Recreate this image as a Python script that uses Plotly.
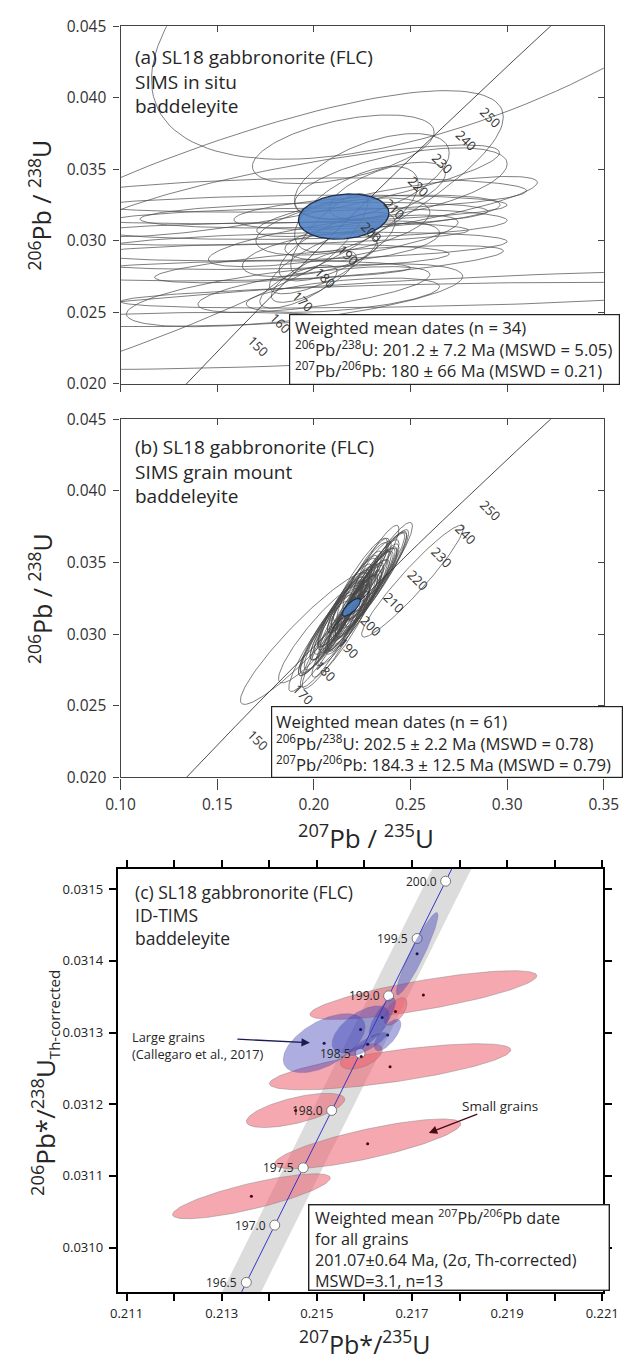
import numpy as np
import plotly.graph_objects as go

W, H = 636, 1362
FONT = "Open Sans"
TXT = "#262626"

# ---------------- DATA ----------------
# Concordia nodes used in panels (a) and (b): age (Ma), 207Pb/235U, 206Pb/238U
conc_ages_ab = [120, 130, 140, 150, 160, 170, 180, 190, 200, 210, 220, 230, 240, 250, 260, 270, 280, 290]
conc_x_ab = [0.125450, 0.136588, 0.147837, 0.159197, 0.170669, 0.182256, 0.193957, 0.205774, 0.217708,
             0.229759, 0.241930, 0.254222, 0.266635, 0.279171, 0.291831, 0.304617, 0.317529, 0.330569]
conc_y_ab = [0.018789, 0.020371, 0.021955, 0.023542, 0.025131, 0.026722, 0.028316, 0.029912, 0.031511,
             0.033112, 0.034716, 0.036323, 0.037932, 0.039543, 0.041157, 0.042773, 0.044392, 0.046018]
conc_label_ages = [150, 160, 170, 180, 190, 200, 210, 220, 230, 240, 250]

# Panel (a): SIMS in situ spots -> centre x, centre y, 2s half-width x, 2s half-width y, error correlation
a_cx = [0.300, 0.120, 0.2152, 0.190, 0.243, 0.2275, 0.2078, 0.260, 0.210, 0.200, 0.190,
        0.190, 0.180, 0.190, 0.170, 0.190, 0.170, 0.200, 0.160, 0.260, 0.130,
        0.205, 0.200, 0.192, 0.212, 0.222, 0.230, 0.215, 0.208, 0.238, 0.198, 0.225, 0.245, 0.215]
a_cy = [0.0507, 0.0294, 0.0364, 0.0335, 0.0324, 0.0320, 0.02837, 0.0245, 0.0300, 0.0266, 0.0262,
        0.0332, 0.0322, 0.0312, 0.0305, 0.0296, 0.0289, 0.0318, 0.0279, 0.0262, 0.0245,
        0.0285, 0.0275, 0.0268, 0.0296, 0.0322, 0.0345, 0.0310, 0.0305, 0.0335, 0.0290, 0.0300, 0.0340, 0.0262]
a_sx = [0.184, 0.178, 0.047, 0.106, 0.0726, 0.0689, 0.0902, 0.300, 0.0646, 0.060, 0.087,
        0.120, 0.120, 0.110, 0.110, 0.110, 0.100, 0.090, 0.090, 0.160, 0.080,
        0.028, 0.022, 0.020, 0.030, 0.032, 0.040, 0.045, 0.020, 0.030, 0.035, 0.040, 0.055, 0.050]
a_sy = [0.0150, 0.0111, 0.0024, 0.0032, 0.0021, 0.0012, 0.0013, 0.0035, 0.0018, 0.0016, 0.0022,
        0.0012, 0.0010, 0.0011, 0.0008, 0.0010, 0.0009, 0.0009, 0.0007, 0.0009, 0.0005,
        0.0022, 0.0018, 0.0015, 0.0024, 0.0030, 0.0030, 0.0020, 0.0028, 0.0020, 0.0015, 0.0014, 0.0025, 0.0012]
a_rho = [0.63, 0.834, 0.50, 0.83, 0.80, 0.43, 0.71, 0.60, 0.72, 0.65, 0.60,
         0.25, 0.30, 0.20, 0.30, 0.35, 0.20, 0.30, 0.30, 0.50, 0.30,
         0.75, 0.75, 0.70, 0.70, 0.60, 0.55, 0.50, 0.80, 0.60, 0.50, 0.40, 0.55, 0.50]
a_mean = [0.2154, 0.0317, 0.0234, 0.00158, 0.15]

# Panel (b): SIMS grain mount spots
b_cx = [0.195, 0.251, 0.203,
        0.212, 0.218, 0.224, 0.215, 0.221, 0.227, 0.209, 0.217, 0.223, 0.230, 0.214, 0.219, 0.226, 0.211,
        0.220, 0.233, 0.206, 0.216, 0.225, 0.229, 0.213, 0.222, 0.218, 0.236, 0.208, 0.224, 0.219, 0.231,
        0.215, 0.227, 0.221, 0.210, 0.228, 0.217, 0.204, 0.234, 0.223, 0.213, 0.220, 0.226, 0.216, 0.232,
        0.207, 0.222, 0.218, 0.230, 0.212, 0.225, 0.214, 0.238, 0.220, 0.228, 0.210, 0.224, 0.217, 0.235,
        0.205, 0.229]
b_cy = [0.0297, 0.0337, 0.0300,
        0.0310, 0.0318, 0.0325, 0.0316, 0.0316, 0.0330, 0.0305, 0.0312, 0.0322, 0.0334, 0.0315, 0.0324,
        0.0328, 0.0309, 0.0315, 0.0340, 0.0300, 0.0320, 0.0325, 0.0334, 0.0302, 0.0331, 0.0312, 0.0346,
        0.0302, 0.0338, 0.0315, 0.0340, 0.0304, 0.0342, 0.0321, 0.0295, 0.0331, 0.0322, 0.0294, 0.0344,
        0.0321, 0.0313, 0.0328, 0.0330, 0.0308, 0.0350, 0.0291, 0.0320, 0.0323, 0.0336, 0.0311, 0.0337,
        0.0300, 0.0352, 0.0314, 0.0336, 0.0305, 0.0325, 0.0320, 0.0347, 0.0297, 0.0342]
b_sx = [0.033, 0.0263, 0.0213,
        0.017, 0.015, 0.016, 0.013, 0.014, 0.015, 0.016, 0.012, 0.013, 0.014, 0.011, 0.011, 0.012, 0.013,
        0.013, 0.015, 0.014, 0.014, 0.014, 0.012, 0.012, 0.013, 0.011, 0.013, 0.015, 0.014, 0.010, 0.013,
        0.013, 0.012, 0.009, 0.016, 0.015, 0.015, 0.017, 0.014, 0.012, 0.013, 0.013, 0.010, 0.010, 0.012,
        0.014, 0.011, 0.011, 0.013, 0.014, 0.013, 0.015, 0.013, 0.014, 0.011, 0.011, 0.008, 0.008, 0.012,
        0.013, 0.011]
b_sy = [0.0046, 0.0039, 0.0034,
        0.0035, 0.0031, 0.0033, 0.0027, 0.0028, 0.0030, 0.0032, 0.0025, 0.0026, 0.0029, 0.0023, 0.0023,
        0.0024, 0.0027, 0.0026, 0.0031, 0.0029, 0.0029, 0.0027, 0.0024, 0.0024, 0.0027, 0.0022, 0.0027,
        0.0030, 0.0029, 0.0020, 0.0026, 0.0026, 0.0025, 0.0018, 0.0033, 0.0029, 0.0031, 0.0034, 0.0028,
        0.0024, 0.0027, 0.0027, 0.0020, 0.0020, 0.0026, 0.0028, 0.0022, 0.0022, 0.0025, 0.0029, 0.0027,
        0.0030, 0.0026, 0.0028, 0.0023, 0.0023, 0.0016, 0.0016, 0.0024, 0.0026, 0.0023]
b_rho = [0.935, 0.95, 0.91,
         0.92, 0.92, 0.92, 0.91, 0.91, 0.92, 0.92, 0.90, 0.91, 0.91, 0.90, 0.90, 0.90, 0.91, 0.91, 0.92,
         0.91, 0.91, 0.91, 0.90, 0.90, 0.91, 0.89, 0.91, 0.92, 0.91, 0.89, 0.90, 0.91, 0.90, 0.88, 0.92,
         0.91, 0.92, 0.92, 0.91, 0.90, 0.91, 0.91, 0.89, 0.89, 0.90, 0.91, 0.89, 0.89, 0.90, 0.91, 0.91,
         0.92, 0.90, 0.91, 0.90, 0.90, 0.87, 0.87, 0.90, 0.91, 0.90]
b_mean = [0.2194, 0.03188, 0.0047, 0.00062, 0.75]

# Panel (c): ID-TIMS concordia (ages, 207Pb*/235U, 206Pb*/238U)
c_ages = [196.0, 196.5, 197.0, 197.5, 198.0, 198.5, 199.0, 199.5, 200.0, 200.5]
c_conc_x = [0.2129198, 0.2135173, 0.2141151, 0.2147131, 0.2153114, 0.2159100, 0.2165089, 0.2171081,
            0.2177077, 0.2183077]
c_conc_y = [0.0308714, 0.0309514, 0.0310313, 0.0311113, 0.0311913, 0.0312713, 0.0313513, 0.0314313,
            0.0315113, 0.0315913]
c_label_ages = [196.5, 197.0, 197.5, 198.0, 198.5, 199.0, 199.5, 200.0]
c_band_halfwidth = 0.00041

# small grains (pink) and large grains (blue): x, y, 2s x, 2s y, rho
small_cx = [0.21724, 0.21654, 0.214554, 0.216068, 0.213624, 0.216654, 0.215934]
small_cy = [0.0313524, 0.0312523, 0.0311914, 0.0311447, 0.0310716, 0.0313295, 0.0312668]
small_sx = [0.002386, 0.002538, 0.001034, 0.001958, 0.001658, 0.00024, 0.00044]
small_sy = [0.0000340, 0.0000322, 0.0000239, 0.0000348, 0.0000314, 0.0000192, 0.0000178]
small_rho = [0.79, 0.73, 0.64, 0.80, 0.81, 0.60, 0.50]

large_cx = [0.215154, 0.21592, 0.217108, 0.216374, 0.216488, 0.216068]
large_cy = [0.0312852, 0.0313044, 0.0314100, 0.0313209, 0.0312966, 0.0312838]
large_sx = [0.00086, 0.00060, 0.00044, 0.00028, 0.00028, 0.00040]
large_sy = [0.0000412, 0.0000329, 0.0000576, 0.0000274, 0.0000220, 0.0000165]
large_rho = [0.55, 0.60, 0.93, 0.80, 0.70, 0.85]


# ---------------- helpers ----------------
def ell(cx, cy, sx, sy, rho, n=150):
    t = np.linspace(0, 2 * np.pi, n)
    x = cx + sx * np.cos(t)
    y = cy + sy * (rho * np.cos(t) + np.sqrt(1 - rho ** 2) * np.sin(t))
    return x, y


def many(cxs, cys, sxs, sys_, rhos):
    X, Y = [], []
    for cx, cy, sx, sy, r in zip(cxs, cys, sxs, sys_, rhos):
        x, y = ell(cx, cy, sx, sy, r)
        X += list(x) + [None]
        Y += list(y) + [None]
    return X, Y


def P(px, py):
    return px / W, 1 - py / H


fig = go.Figure()
annos = []

# ---------------- panels (a) and (b) ----------------
panels = [
    dict(xa="x", ya="y", xov="x2", yov="y2", cx=a_cx, cy=a_cy, sx=a_sx, sy=a_sy, r=a_rho, mean=a_mean),
    dict(xa="x3", ya="y3", xov="x4", yov="y4", cx=b_cx, cy=b_cy, sx=b_sx, sy=b_sy, r=b_rho, mean=b_mean),
]
for p in panels:
    X, Y = many(p["cx"], p["cy"], p["sx"], p["sy"], p["r"])
    fig.add_trace(go.Scatter(x=X, y=Y, xaxis=p["xa"], yaxis=p["ya"], mode="lines",
                             line=dict(color="#474747", width=0.7), hoverinfo="skip"))
    fig.add_trace(go.Scatter(x=conc_x_ab, y=conc_y_ab, xaxis=p["xa"], yaxis=p["ya"], mode="lines",
                             line=dict(color="#222222", width=0.8), hoverinfo="skip"))
    mx, my = ell(*p["mean"])
    fig.add_trace(go.Scatter(x=mx, y=my, xaxis=p["xa"], yaxis=p["ya"], mode="lines", fill="toself",
                             fillcolor="rgba(79,127,194,0.88)", line=dict(color="#1d3050", width=1.3),
                             hoverinfo="skip"))
    fig.add_trace(go.Scatter(x=[None], y=[None], xaxis=p["xov"], yaxis=p["ya"], showlegend=False))
    fig.add_trace(go.Scatter(x=[None], y=[None], xaxis=p["xa"], yaxis=p["yov"], showlegend=False))
    for age in conc_label_ages:
        i = conc_ages_ab.index(age)
        annos.append(dict(x=conc_x_ab[i], y=conc_y_ab[i], xref=p["xa"], yref=p["ya"], text=str(age),
                          showarrow=False, textangle=45, xshift=23, yshift=-13,
                          font=dict(family=FONT, size=13, color="#333333")))

# ---------------- panel (c) ----------------
bx = [x - c_band_halfwidth for x in c_conc_x] + [x + c_band_halfwidth for x in c_conc_x[::-1]]
by = list(c_conc_y) + list(c_conc_y[::-1])
fig.add_trace(go.Scatter(x=bx, y=by, xaxis="x5", yaxis="y5", mode="lines", fill="toself",
                         fillcolor="#dcdcdc", line=dict(width=0), hoverinfo="skip"))
for cx, cy, sx, sy, r in zip(small_cx, small_cy, small_sx, small_sy, small_rho):
    x, y = ell(cx, cy, sx, sy, r)
    fig.add_trace(go.Scatter(x=x, y=y, xaxis="x5", yaxis="y5", mode="lines", fill="toself",
                             fillcolor="rgba(236,96,110,0.55)", line=dict(color="rgba(120,120,120,0.7)", width=0.6),
                             hoverinfo="skip"))
fig.add_trace(go.Scatter(x=c_conc_x, y=c_conc_y, xaxis="x5", yaxis="y5", mode="lines",
                         line=dict(color="#3535c8", width=1), hoverinfo="skip"))
lx = [c_conc_x[c_ages.index(a)] for a in c_label_ages]
ly = [c_conc_y[c_ages.index(a)] for a in c_label_ages]
fig.add_trace(go.Scatter(x=lx, y=ly, xaxis="x5", yaxis="y5", mode="markers",
                         marker=dict(size=10, color="white", line=dict(color="#777777", width=1)),
                         hoverinfo="skip"))
for cx, cy, sx, sy, r in zip(large_cx, large_cy, large_sx, large_sy, large_rho):
    x, y = ell(cx, cy, sx, sy, r)
    fig.add_trace(go.Scatter(x=x, y=y, xaxis="x5", yaxis="y5", mode="lines", fill="toself",
                             fillcolor="rgba(60,60,180,0.42)", line=dict(color="rgba(90,90,150,0.5)", width=0.5),
                             hoverinfo="skip"))
fig.add_trace(go.Scatter(x=small_cx, y=small_cy, xaxis="x5", yaxis="y5", mode="markers",
                         marker=dict(size=3, color="#4a0010"), hoverinfo="skip"))
fig.add_trace(go.Scatter(x=large_cx, y=large_cy, xaxis="x5", yaxis="y5", mode="markers",
                         marker=dict(size=3, color="#15155a"), hoverinfo="skip"))
for a, x, y in zip(c_label_ages, lx, ly):
    annos.append(dict(x=x, y=y, xref="x5", yref="y5", text=f"{a:.1f}", showarrow=False,
                      xanchor="right", xshift=-7, font=dict(family=FONT, size=12, color="#262626")))

# ---------------- texts ----------------
def txt(px, py, s, size, anchor="left", color=TXT, angle=0, yanchor="middle"):
    x, y = P(px, py)
    annos.append(dict(x=x, y=y, xref="paper", yref="paper", text=s, showarrow=False, xanchor=anchor,
                      yanchor=yanchor, textangle=angle, align="left", borderpad=0,
                      font=dict(family=FONT, size=size, color=color)))


def box(x0, y0, x1, y1, lw=1.2):
    x, y = P(x0, y0)
    annos.append(dict(x=x, y=y, xref="paper", yref="paper", text=" ", showarrow=False, xanchor="left",
                      yanchor="top", width=x1 - x0 - 2 * lw, height=y1 - y0 - 2 * lw, borderpad=0,
                      bgcolor="white", bordercolor="#222222", borderwidth=lw))


# panel titles (multi-line blocks)
txt(125, 71, "(a) SL18 gabbronorite (FLC)<br>SIMS in situ<br>baddeleyite", 19)
txt(125, 466.7, "(b) SL18 gabbronorite (FLC)<br>SIMS grain mount<br>baddeleyite", 19)
txt(125, 918, "(c) SL18 gabbronorite (FLC)<br>ID-TIMS<br>baddeleyite", 17.5)

# result boxes
box(288.3, 306.7, 619, 378)
txt(293, 342.5, "Weighted mean dates (n = 34)<br>"
                "<sup>206</sup>Pb/<sup>238</sup>U: 201.2 ± 7.2 Ma (MSWD = 5.05)<br>"
                "<sup>207</sup>Pb/<sup>206</sup>Pb: 180 ± 66 Ma (MSWD = 0.21)", 16.7)
box(269, 705.7, 621, 778)
txt(273, 743.5, "Weighted mean dates (n = 61)<br>"
                "<sup>206</sup>Pb/<sup>238</sup>U: 202.5 ± 2.2 Ma (MSWD = 0.78)<br>"
                "<sup>207</sup>Pb/<sup>206</sup>Pb: 184.3 ± 12.5 Ma (MSWD = 0.79)", 16.7)
box(308, 1212, 610, 1299, lw=1.4)
txt(314, 1257, "Weighted mean <sup>207</sup>Pb/<sup>206</sup>Pb date<br>for all grains<br>"
               "201.07±0.64 Ma, (2σ, Th-corrected)<br>MSWD=3.1, n=13", 16.2)

# panel (c) annotations
txt(122, 1050.5, "Large grains<br>(Callegaro et al., 2017)", 12.8)
txt(469, 1112, "Small grains", 13.5)
hx, hy = P(310, 1047.7)
annos.append(dict(x=hx, y=hy, xref="paper", yref="paper", ax=-74, ay=-3.7, text="", showarrow=True,
                  arrowhead=2, arrowsize=1.2, arrowwidth=1.4, arrowcolor="#1b1b55"))
hx, hy = P(435, 1139.3)
annos.append(dict(x=hx, y=hy, xref="paper", yref="paper", ax=50, ay=-19.3, text="", showarrow=True,
                  arrowhead=2, arrowsize=1.2, arrowwidth=1.4, arrowcolor="#4a0a14"))

# axis titles
txt(27, 196, "<sup>206</sup>Pb / <sup>238</sup>U", 25, anchor="center", angle=-90)
txt(27, 596, "<sup>206</sup>Pb / <sup>238</sup>U", 25, anchor="center", angle=-90)
txt(369, 839, "<sup>207</sup>Pb / <sup>235</sup>U", 26, anchor="center")
txt(31, 1088, "<sup>206</sup>Pb*/<sup>238</sup>U<sub><span style='font-size:15px'>Th-corrected</span></sub>",
    26, anchor="center", angle=-90)
txt(368, 1352, "<sup>207</sup>Pb*/<sup>235</sup>U", 25, anchor="center")

# ---------------- axes ----------------
ab_xt = [0.10, 0.15, 0.20, 0.25, 0.30, 0.35]
ab_yt = [0.020, 0.025, 0.030, 0.035, 0.040, 0.045]
ab_ytt = [f"{v:.3f}" for v in ab_yt]
c_xt = [0.211, 0.212, 0.213, 0.214, 0.215, 0.216, 0.217, 0.218, 0.219, 0.220, 0.221]
c_xtt = ["0.211", "", "0.213", "", "0.215", "", "0.217", "", "0.219", "", "0.221"]
c_yt = [0.0310, 0.0311, 0.0312, 0.0313, 0.0314, 0.0315]
c_ytt = [f"{v:.4f}" for v in c_yt]

LC = "#444444"
common = dict(showgrid=False, zeroline=False)
tf_ab = dict(family=FONT, size=15.5, color="#333333")
tf_c = dict(family=FONT, size=13, color="#222222")


def ab_axes(ydom, show_x_labels, xticklen):
    xd = [111 / W, 619 / W]
    main_x = dict(domain=xd, range=[0.10, 0.35], tickmode="array", tickvals=ab_xt,
                  ticktext=[f"{v:.2f}" for v in ab_xt], showticklabels=show_x_labels, ticks="outside",
                  ticklen=xticklen, tickwidth=1.2, tickcolor=LC, showline=True, linecolor=LC, linewidth=1.4,
                  mirror=True, tickfont=tf_ab, ticklabelstandoff=2, **common)
    top_x = dict(range=[0.10, 0.35], tickmode="array", tickvals=ab_xt, showticklabels=False, ticks="inside",
                 ticklen=6, tickwidth=1.2, tickcolor=LC, side="top", showline=False, **common)
    main_y = dict(domain=ydom, range=[0.020, 0.045], tickmode="array", tickvals=ab_yt, ticktext=ab_ytt,
                  ticks="outside", ticklen=6, tickwidth=1.2, tickcolor=LC, showline=True, linecolor=LC,
                  linewidth=1.4, mirror=True, tickfont=tf_ab, ticklabelstandoff=4, **common)
    right_y = dict(range=[0.020, 0.045], tickmode="array", tickvals=ab_yt, showticklabels=False,
                   ticks="inside", ticklen=6, tickwidth=1.2, tickcolor=LC, side="right", showline=False,
                   **common)
    return main_x, top_x, main_y, right_y


ax1, ax2, ay1, ay2 = ab_axes([1 - 378 / H, 1 - 14.5 / H], False, 7)
ax3, ax4, ay3, ay4 = ab_axes([1 - 778 / H, 1 - 414 / H], True, 11)
ax1.update(anchor="y"); ax2.update(anchor="y", overlaying="x")
ay1.update(anchor="x"); ay2.update(anchor="x", overlaying="y")
ax3.update(anchor="y3"); ax4.update(anchor="y3", overlaying="x3")
ay3.update(anchor="x3"); ay4.update(anchor="x3", overlaying="y3")

ax5 = dict(domain=[108 / W, 618.3 / W], range=[0.210814, 0.221020], anchor="y5", tickmode="array",
           tickvals=c_xt, ticktext=c_xtt, ticks="outside", ticklen=7, tickwidth=2, tickcolor="black",
           showline=True, linecolor="black", linewidth=2, mirror="ticks", tickfont=tf_c,
           ticklabelstandoff=1, **common)
ay5 = dict(domain=[1 - 1301 / H, 1 - 870.7 / H], range=[0.030938, 0.0315288], anchor="x5", tickmode="array",
           tickvals=c_yt, ticktext=c_ytt, ticks="outside", ticklen=7, tickwidth=2, tickcolor="black",
           showline=True, linecolor="black", linewidth=2, mirror="ticks", tickfont=tf_c,
           ticklabelstandoff=3, **common)

fig.update_layout(
    width=W, height=H, margin=dict(l=0, r=0, t=0, b=0), showlegend=False,
    paper_bgcolor="white", plot_bgcolor="white",
    xaxis=ax1, xaxis2=ax2, yaxis=ay1, yaxis2=ay2,
    xaxis3=ax3, xaxis4=ax4, yaxis3=ay3, yaxis4=ay4,
    xaxis5=ax5, yaxis5=ay5,
    annotations=annos,
    font=dict(family=FONT),
)

fig.write_html("out.html", config={"displayModeBar": False},
               post_script="document.body.style.margin='0';document.body.style.overflow='hidden';")
